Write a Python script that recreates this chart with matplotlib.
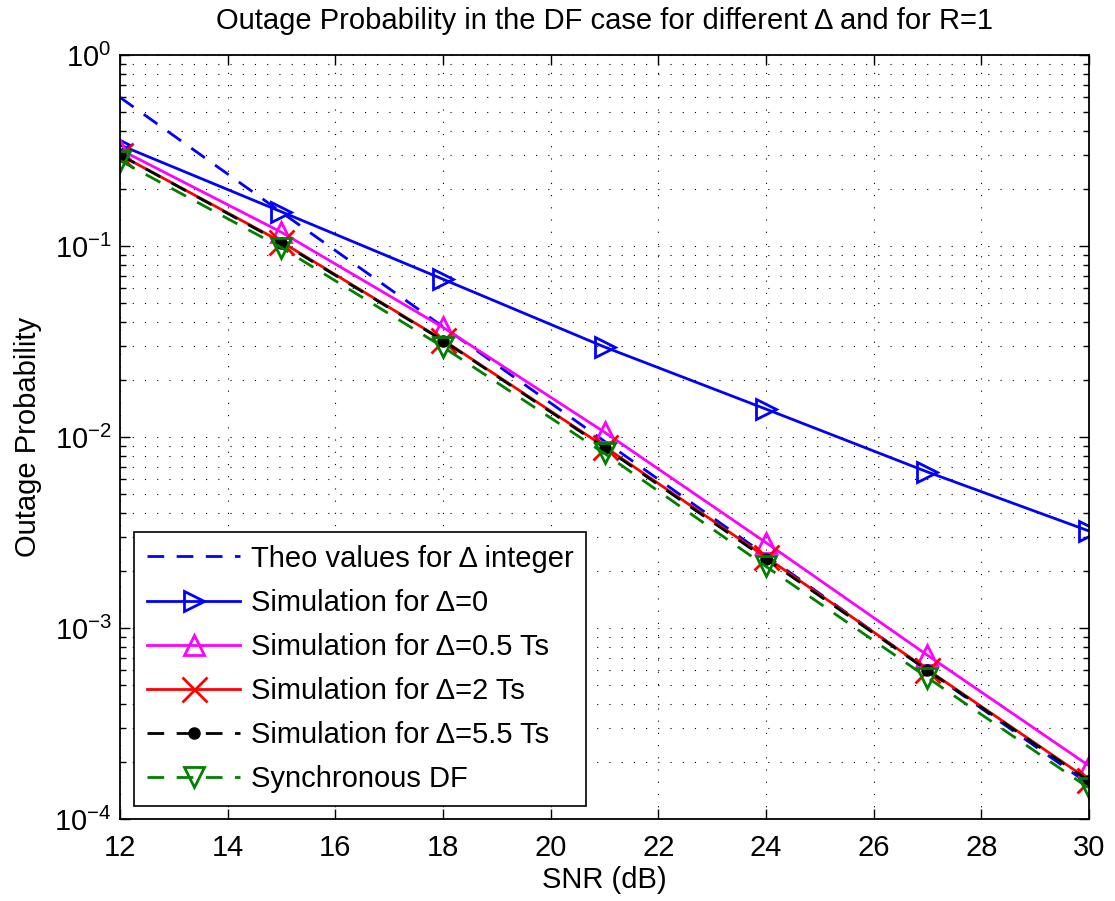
import matplotlib
matplotlib.use("Agg")
import matplotlib.pyplot as plt
from matplotlib.ticker import LogLocator, NullFormatter, MultipleLocator

plt.rcParams['font.family'] = ['Liberation Sans', 'DejaVu Sans']
plt.rcParams['mathtext.fontset'] = 'custom'
plt.rcParams['mathtext.rm'] = 'Liberation Sans'
plt.rcParams['mathtext.it'] = 'Liberation Sans:italic'
plt.rcParams['mathtext.bf'] = 'Liberation Sans:bold'

snr = [12, 15, 18, 21, 24, 27, 30]
theo = [0.60, 0.150, 0.0378, 0.0095, 0.0024, 0.00060, 0.000152]
sim_d0 = [0.338, 0.151, 0.067, 0.0296, 0.0140, 0.00656, 0.00322]
sim_d05 = [0.32, 0.118, 0.0375, 0.0106, 0.0028, 0.00072, 0.00019]
sim_d2 = [0.30, 0.105, 0.0322, 0.0089, 0.00235, 0.000605, 0.00016]
sim_d55 = [0.30, 0.104, 0.032, 0.0088, 0.0023, 0.00060, 0.000158]
sync_df = [0.28, 0.098, 0.0296, 0.0082, 0.0021, 0.00055, 0.000145]

labels = ['Theo values for \u0394 integer',
          'Simulation for \u0394=0',
          'Simulation for \u0394=0.5 Ts',
          'Simulation for \u0394=2 Ts',
          'Simulation for \u0394=5.5 Ts',
          'Synchronous DF']

fig = plt.figure(figsize=(11.15, 9.01), dpi=100)
fig.subplots_adjust(left=120/1115, right=1089/1115, top=1-55/901, bottom=1-819/901)
ax = fig.add_subplot(111)

FS = 21
lw = 2.0
dash = (6, 4.5)
mew = 2.0

ax.plot(snr, theo, color=(0, 0, 1), lw=lw, linestyle=(0, dash), label=labels[0])
ax.plot(snr, sim_d0, color=(0, 0, 1), lw=lw, marker='>', ms=14, mfc='none', mew=mew, label=labels[1])
ax.plot(snr, sim_d05, color=(1, 0, 1), lw=lw, marker='^', ms=14, mfc='none', mew=mew, label=labels[2])
ax.plot(snr, sim_d2, color=(1, 0, 0), lw=lw, marker='x', ms=18, mew=mew, label=labels[3])
ax.plot(snr, sim_d55, color='black', lw=lw, linestyle=(0, dash), marker='o', ms=8, mfc='black', label=labels[4])
ax.plot(snr, sync_df, color=(0, 0.5, 0), lw=lw, linestyle=(0, dash), marker='v', ms=14, mfc='none', mew=mew, label=labels[5])

ax.set_yscale('log')
ax.set_xlim(12, 30)
ax.set_ylim(1e-4, 1)
ax.xaxis.set_major_locator(MultipleLocator(2))
ax.yaxis.set_major_locator(LogLocator(base=10, numticks=10))
ax.yaxis.set_minor_locator(LogLocator(base=10, subs=range(2, 10), numticks=20))
ax.yaxis.set_minor_formatter(NullFormatter())

ax.grid(True, which='major', axis='both', color='black', linestyle=(0, (1, 10)), lw=0.8)
ax.grid(True, which='minor', axis='y', color='black', linestyle=(0, (1, 10)), lw=0.8)

ax.tick_params(which='both', direction='in', top=True, right=True, labelsize=FS, width=1.0)
ax.tick_params(which='major', length=7)
ax.tick_params(which='minor', length=4)
ax.tick_params(axis='x', pad=11)
ax.tick_params(axis='y', pad=6)
for s in ax.spines.values():
    s.set_linewidth(1.3)

ax.set_title('Outage Probability in the DF case for different \u0394 and for R=1', fontsize=FS, pad=19)
ax.set_xlabel('SNR (dB)', fontsize=FS)
ax.set_ylabel('Outage Probability', fontsize=FS)
ax.xaxis.set_label_coords(0.5, -0.062)
ax.yaxis.set_label_coords(-0.080, 0.5)

leg = ax.legend(loc='lower left', bbox_to_anchor=(0.0144, 0.017), borderaxespad=0,
                fontsize=FS, handlelength=3.2, handletextpad=0.35, labelspacing=0.55,
                fancybox=False, framealpha=1, edgecolor='black', borderpad=0.45)
leg.get_frame().set_linewidth(1.2)

fig.savefig('out.png', dpi=100)
